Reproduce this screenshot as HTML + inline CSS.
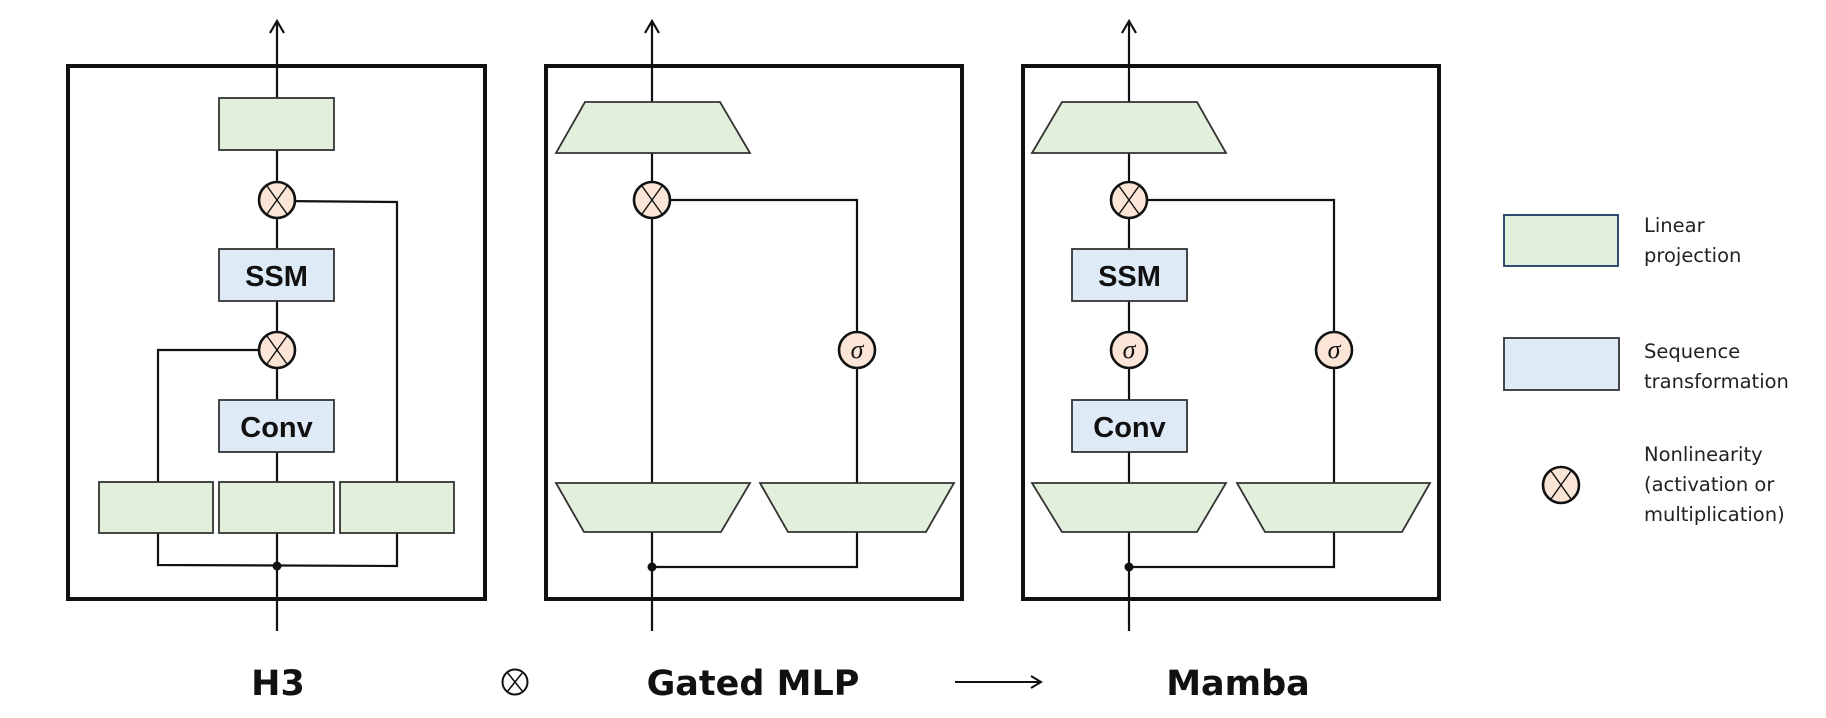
<!DOCTYPE html>
<html><head><meta charset="utf-8"><style>
html,body{margin:0;padding:0;background:#fff;}
svg{display:block;}
.lbl{font-family:"Liberation Sans Narrow","Liberation Sans",sans-serif;font-weight:bold;font-size:29px;fill:#111;}
.leg{font-family:"DejaVu Sans","Liberation Sans",sans-serif;font-size:19.5px;fill:#222;}
.title{font-family:"DejaVu Sans","Liberation Sans",sans-serif;font-weight:bold;font-size:35px;fill:#111;}
.sig{font-family:"Liberation Serif",serif;font-style:italic;font-size:26px;fill:#111;}
</style></head><body>
<svg width="1826" height="718" viewBox="0 0 1826 718" xmlns="http://www.w3.org/2000/svg">
<defs>
<g id="mul">
<circle cx="0" cy="0" r="18" fill="#fbe5d6" stroke="#111" stroke-width="2.6"/>
<line x1="-10" y1="-14" x2="10" y2="14" stroke="#111" stroke-width="1.4"/>
<line x1="10" y1="-14" x2="-10" y2="14" stroke="#111" stroke-width="1.4"/>
</g>
<g id="sg">
<circle cx="0" cy="0" r="18" fill="#fbe5d6" stroke="#111" stroke-width="2.6"/>
<text x="0" y="8" text-anchor="middle" class="sig">σ</text>
</g>
</defs>
<g fill="none" stroke="#111" stroke-width="2.2">
<!-- H3 lines -->
<line x1="277" y1="22" x2="277" y2="631"/>
<polyline points="270,33 277,21 284,33"/>
<polyline points="277,201 397,202 397,483"/>
<polyline points="277,350 158,350 158,483"/>
<polyline points="158,533 158,565 397,566 397,533"/>
<!-- Gated lines -->
<line x1="652" y1="22" x2="652" y2="631"/>
<polyline points="645,33 652,21 659,33"/>
<polyline points="652,200 857,200 857,483"/>
<polyline points="652,567 857,567 857,532"/>
<!-- Mamba lines -->
<line x1="1129" y1="22" x2="1129" y2="631"/>
<polyline points="1122,33 1129,21 1136,33"/>
<polyline points="1129,200 1334,200 1334,483"/>
<polyline points="1129,567 1334,567 1334,532"/>
</g>
<!-- outer boxes -->
<g fill="none" stroke="#111" stroke-width="4">
<rect x="68" y="66" width="417" height="533"/>
<rect x="546" y="66" width="416" height="533"/>
<rect x="1023" y="66" width="416" height="533"/>
</g>
<g stroke="#333" stroke-width="1.8">
<!-- H3 -->
<rect x="219" y="98" width="115" height="52" fill="#e2efda"/>
<rect x="219" y="249" width="115" height="52" fill="#deebf7"/>
<rect x="219" y="400" width="115" height="52" fill="#deebf7"/>
<rect x="99" y="482" width="114" height="51" fill="#e2efda"/>
<rect x="219" y="482" width="115" height="51" fill="#e2efda"/>
<rect x="340" y="482" width="114" height="51" fill="#e2efda"/>
<!-- Gated -->
<polygon points="585,102 720,102 750,153 556,153" fill="#e2efda"/>
<polygon points="556,483 750,483 721,532 584,532" fill="#e2efda"/>
<polygon points="760,483 954,483 926,532 788,532" fill="#e2efda"/>
<!-- Mamba -->
<polygon points="1062,102 1197,102 1226,153 1032,153" fill="#e2efda"/>
<rect x="1072" y="249" width="115" height="52" fill="#deebf7"/>
<rect x="1072" y="400" width="115" height="52" fill="#deebf7"/>
<polygon points="1032,483 1226,483 1197,532 1062,532" fill="#e2efda"/>
<polygon points="1237,483 1430,483 1402,532 1265,532" fill="#e2efda"/>
<!-- legend -->
<rect x="1504" y="215" width="114" height="51" fill="#e2efda" stroke="#1f3864"/>
<rect x="1504" y="338" width="115" height="52" fill="#deebf7"/>
</g>
<circle cx="277" cy="566" r="4.5" fill="#111"/>
<circle cx="652" cy="567" r="4.5" fill="#111"/>
<circle cx="1129" cy="567" r="4.5" fill="#111"/>
<use href="#mul" x="277" y="200"/>
<use href="#mul" x="277" y="350"/>
<use href="#mul" x="652" y="200"/>
<use href="#sg" x="857" y="350"/>
<use href="#mul" x="1129" y="200"/>
<use href="#sg" x="1129" y="350"/>
<use href="#sg" x="1334" y="350"/>
<use href="#mul" x="1561" y="485"/>
<text x="276.5" y="286" text-anchor="middle" class="lbl">SSM</text>
<text x="276.5" y="437" text-anchor="middle" class="lbl">Conv</text>
<text x="1129.5" y="286" text-anchor="middle" class="lbl">SSM</text>
<text x="1129.5" y="437" text-anchor="middle" class="lbl">Conv</text>
<text x="1644" y="232" class="leg">Linear</text>
<text x="1644" y="262" class="leg">projection</text>
<text x="1644" y="358" class="leg">Sequence</text>
<text x="1644" y="388" class="leg">transformation</text>
<text x="1644" y="461" class="leg">Nonlinearity</text>
<text x="1644" y="491" class="leg">(activation or</text>
<text x="1644" y="521" class="leg">multiplication)</text>
<text x="278" y="695" text-anchor="middle" class="title">H3</text>
<text x="753" y="695" text-anchor="middle" class="title">Gated MLP</text>
<text x="1238" y="695" text-anchor="middle" class="title">Mamba</text>
<g fill="none" stroke="#111" stroke-width="2">
<circle cx="515" cy="682" r="12.5"/>
<line x1="507" y1="672" x2="523" y2="692" stroke-width="1.5"/>
<line x1="523" y1="672" x2="507" y2="692" stroke-width="1.5"/>
<line x1="955" y1="682" x2="1040" y2="682"/>
<polyline points="1031,676 1041,682 1031,688"/>
</g>
</svg>
</body></html>
